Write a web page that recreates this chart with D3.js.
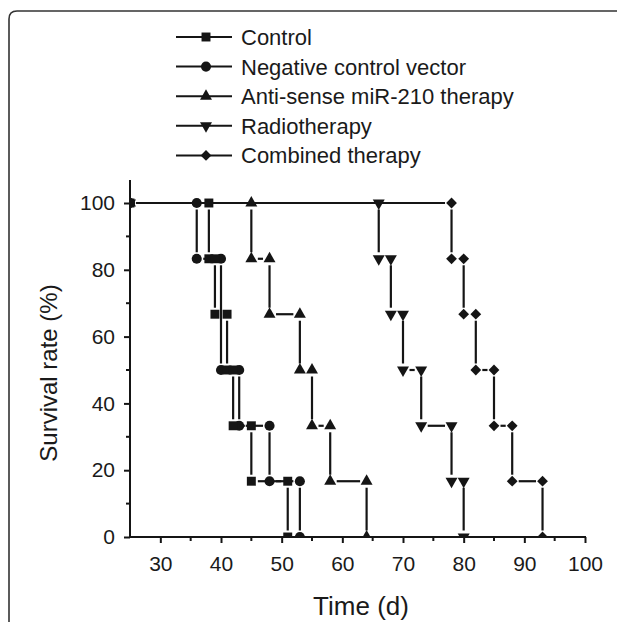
<!DOCTYPE html>
<html>
<head>
<meta charset="utf-8">
<script src="https://cdn.jsdelivr.net/npm/d3@7/dist/d3.min.js"></script>
<style>
  body { margin: 0; background: #fff; }
  text { font-family: "Liberation Sans", Arial, sans-serif; fill: #1a1a1a; }
</style>
</head>
<body>
<div id="chart"></div>
<script>
  // axis ticks
  let xTicks = [30, 40, 50, 60, 70, 80, 90, 100];
  let xMinor = [35, 45, 55, 65, 75, 85, 95];
  let yTicks = [0, 20, 40, 60, 80, 100];
  let yMinor = [10, 30, 50, 70, 90];

  // groups, in legend order
  let groupNames = ['Control', 'Negative control vector', 'Anti-sense miR-210 therapy', 'Radiotherapy', 'Combined therapy'];

  // death days and the survival rate (%) after each one
  let controlDays = [38, 39, 41, 42, 45, 51];
  let controlSurv = [83.3, 66.7, 50, 33.3, 16.7, 0];
  let negativeDays = [36, 40, 43, 48, 53];
  let negativeSurv = [83.3, 50, 33.3, 16.7, 0];
  let antisenseDays = [45, 48, 53, 55, 58, 64];
  let antisenseSurv = [83.3, 66.7, 50, 33.3, 16.7, 0];
  let radioDays = [66, 68, 70, 73, 78, 80];
  let radioSurv = [83.3, 66.7, 50, 33.3, 16.7, 0];
  let combinedDays = [78, 80, 82, 85, 88, 93];
  let combinedSurv = [83.3, 66.7, 50, 33.3, 16.7, 0];

  let width = 617;
  let height = 622;
  let ink = '#151515';

  let series = [
    {name: groupNames[0], days: controlDays, surv: controlSurv, shape: 'square'},
    {name: groupNames[1], days: negativeDays, surv: negativeSurv, shape: 'circle'},
    {name: groupNames[2], days: antisenseDays, surv: antisenseSurv, shape: 'up'},
    {name: groupNames[3], days: radioDays, surv: radioSurv, shape: 'down'},
    {name: groupNames[4], days: combinedDays, surv: combinedSurv, shape: 'diamond'}
  ];

  let svg = d3.select('#chart')
  .append('svg')
  .attr('width', width)
  .attr('height', height);

  // rounded frame around the figure
  svg.append('path')
  .attr('d', 'M9,630 L9,19 Q9,11 17,11 L630,11')
  .attr('fill', 'none')
  .attr('stroke', '#333')
  .attr('stroke-width', 1.6);

  let x = d3.scaleLinear().domain([25, 100]).range([130, 585]);
  let y = d3.scaleLinear().domain([0, 100]).range([537, 203]);
  let yTop = 180;

  // markers are cut off at the axes
  svg.append('clipPath').attr('id', 'plot-clip')
  .append('rect')
  .attr('x', x(25)).attr('y', yTop - 10)
  .attr('width', x(100) - x(25) + 8).attr('height', y(0) - yTop + 10);

  //marker shapes
  function symbolPath(shape){
    if (shape === 'square') return d3.symbol(d3.symbolSquare, 80)();
    if (shape === 'circle') return d3.symbol(d3.symbolCircle, 80)();
    if (shape === 'up') return d3.symbol(d3.symbolTriangle, 62)();
    if (shape === 'down') return d3.symbol(d3.symbolTriangle, 62)();
    return d3.symbol(d3.symbolSquare, 58)();
  }
  function symbolRotate(shape){
    if (shape === 'down') return 180;
    if (shape === 'diamond') return 45;
    return 0;
  }

  // step curves, the line stops short of every marker
  let gap = 6.5;
  let plot = svg.append('g').attr('clip-path', 'url(#plot-clip)');

  series.slice().reverse().forEach((s) => {
    let pts = [[x(25), y(100)]];
    let segs = [];
    let prev = 100;
    let prevX = x(25);
    s.days.forEach((d, i) => {
      let top = [x(d), y(prev)];
      let bottom = [x(d), y(s.surv[i])];
      segs.push([[prevX, y(prev)], top]);
      segs.push([top, bottom]);
      pts.push(top, bottom);
      prev = s.surv[i];
      prevX = x(d);
    });

    let g = plot.append('g');
    segs.forEach((seg) => {
      let dx = seg[1][0] - seg[0][0];
      let dy = seg[1][1] - seg[0][1];
      let len = Math.sqrt(dx * dx + dy * dy);
      if (len <= gap * 2 + 0.5) return;
      let ux = dx / len;
      let uy = dy / len;
      g.append('line')
      .attr('x1', seg[0][0] + ux * gap).attr('y1', seg[0][1] + uy * gap)
      .attr('x2', seg[1][0] - ux * gap).attr('y2', seg[1][1] - uy * gap)
      .attr('stroke', ink)
      .attr('stroke-width', 2.2);
    });

    g.selectAll('.mark')
    .data(pts)
    .enter().append('path')
    .attr('class', 'mark')
    .attr('d', symbolPath(s.shape))
    .attr('transform', (p) => `translate(${p[0]}, ${p[1]}) rotate(${symbolRotate(s.shape)})`)
    .attr('fill', ink);
  });

  // axes
  let gx = svg.append('g').attr('transform', `translate(0, ${y(0)})`);
  gx.call(d3.axisBottom(x).tickValues(xTicks).tickSize(6).tickSizeOuter(0).tickPadding(13));
  gx.selectAll('.tick line').attr('stroke', ink).attr('stroke-width', 2);
  gx.selectAll('.tick text').attr('font-size', 21).style('fill', '#1a1a1a');
  gx.select('.domain').attr('stroke', ink).attr('stroke-width', 2)
  .attr('d', `M${x(25)},0H${x(100) + 1}`);
  gx.selectAll('.minor').data(xMinor).enter().append('line')
  .attr('x1', (d) => x(d)).attr('x2', (d) => x(d))
  .attr('y1', 0).attr('y2', 4)
  .attr('stroke', ink).attr('stroke-width', 2);

  let gy = svg.append('g').attr('transform', `translate(${x(25)}, 0)`);
  gy.call(d3.axisLeft(y).tickValues(yTicks).tickSize(6).tickSizeOuter(0).tickPadding(9));
  gy.selectAll('.tick line').attr('stroke', ink).attr('stroke-width', 2);
  gy.selectAll('.tick text').attr('font-size', 21).style('fill', '#1a1a1a');
  gy.select('.domain').attr('stroke', ink).attr('stroke-width', 2)
  .attr('d', `M0,${y(0) + 1}V${yTop}`);
  gy.selectAll('.minor').data(yMinor).enter().append('line')
  .attr('y1', (d) => y(d)).attr('y2', (d) => y(d))
  .attr('x1', 0).attr('x2', -4)
  .attr('stroke', ink).attr('stroke-width', 2);

  svg.append('text')
  .attr('transform', `translate(57, 373) rotate(-90)`)
  .attr('text-anchor', 'middle')
  .attr('font-size', 24)
  .text('Survival rate (%)');

  svg.append('text')
  .attr('x', 361)
  .attr('y', 615)
  .attr('text-anchor', 'middle')
  .attr('font-size', 26)
  .text('Time (d)');

  // legend
  let legend = svg.append('g');
  let rows = legend.selectAll('.row')
  .data(series)
  .enter().append('g')
  .attr('class', 'row')
  .attr('transform', (d, i) => `translate(0, ${37 + i * 29.6})`);

  rows.append('line')
  .attr('x1', 176).attr('x2', 232)
  .attr('stroke', ink).attr('stroke-width', 2);
  rows.append('path')
  .attr('d', (d) => symbolPath(d.shape))
  .attr('transform', (d) => `translate(206, 0) rotate(${symbolRotate(d.shape)})`)
  .attr('fill', ink);
  rows.append('text')
  .attr('x', 241)
  .attr('y', 8)
  .attr('font-size', 22)
  .text((d) => d.name);
</script>
</body>
</html>
